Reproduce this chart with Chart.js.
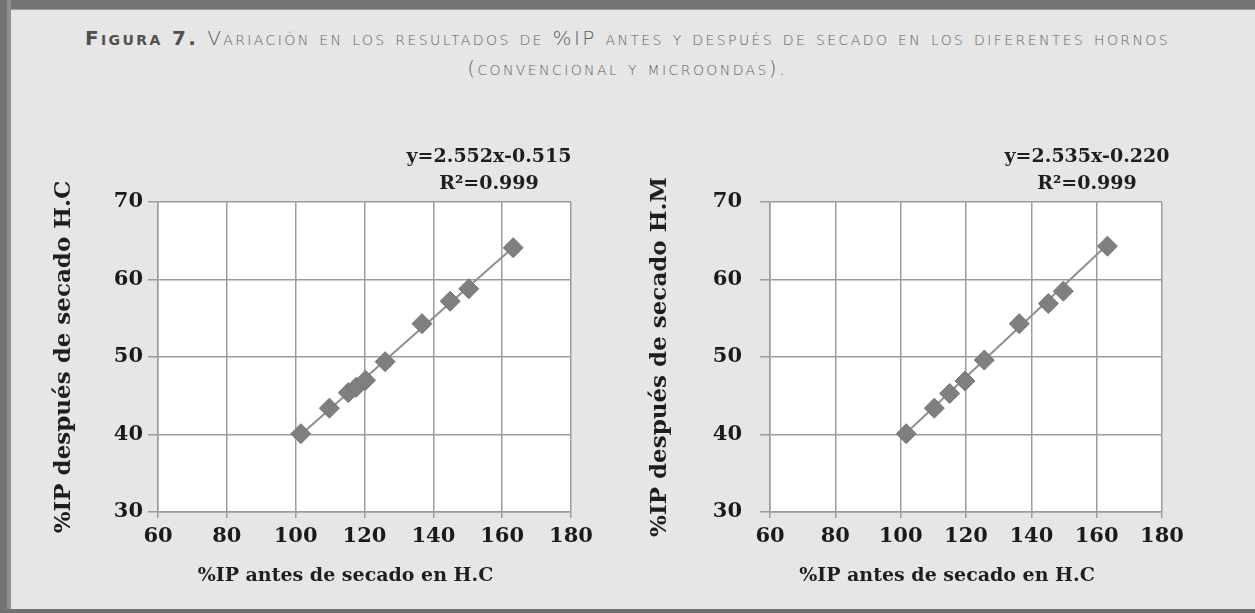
<!DOCTYPE html>
<html>
<head>
<meta charset="utf-8">
<script src="https://cdn.jsdelivr.net/npm/chart.js@4.4.1/dist/chart.umd.min.js"></script>
<style>
  body { margin: 0; width: 1255px; height: 613px; background: #e6e6e6; position: relative; overflow: hidden; }
  .frame-top { position: absolute; left: 0; top: 0; width: 1255px; height: 9px; background: #717375; border-bottom: 1px solid #9a9c9d; }
  .frame-left { position: absolute; left: 0; top: 0; width: 7px; height: 613px; background: #717375; border-right: 4px solid #8e9091; }
  .frame-bottom { position: absolute; left: 0; top: 609px; width: 1255px; height: 4px; background: #6e7072; }
  .titulo { position: absolute; left: 0; width: 1255px; text-align: center; color: #5e5e5e;
    font-family: "DejaVu Sans", sans-serif; font-variant: small-caps; font-size: 20px; font-weight: 300; letter-spacing: 2.4px; }
  .titulo b { font-weight: bold; color: #505050; }
  canvas { position: absolute; }
</style>
</head>
<body>
<div class="frame-top"></div>
<div class="frame-left"></div>
<div class="frame-bottom"></div>
<div class="titulo" style="top: 26px;"><b>Figura 7.</b> Variación en los resultados de %IP antes y después de secado en los diferentes hornos</div>
<div class="titulo" style="top: 56px;">(convencional y microondas).</div>

<canvas id="chart-hc" style="left: 0px; top: 120px;" width="620" height="480"></canvas>
<canvas id="chart-hm" style="left: 620px; top: 120px;" width="635" height="480"></canvas>

<script>
// horno convencional
const xHC = [101.5, 109.8, 115.3, 117.6, 120.3, 126.0, 136.7, 144.9, 150.3, 163.2];
const yHC = [40.1, 43.4, 45.4, 46.1, 47.0, 49.4, 54.3, 57.2, 58.8, 64.1];
const ecuacionHC = { pendiente: 2.552, intercepto: -0.515, r2: "0.999" };

// horno microondas
const xHM = [101.7, 110.3, 115.0, 119.7, 125.6, 136.3, 145.2, 149.8, 163.3];
const yHM = [40.1, 43.4, 45.3, 46.9, 49.6, 54.3, 56.9, 58.5, 64.3];
const ecuacionHM = { pendiente: 2.535, intercepto: -0.22, r2: "0.999" };

const ticksX = [60, 80, 100, 120, 140, 160, 180];
const ticksY = [30, 40, 50, 60, 70];

const tituloX = "%IP antes de secado en H.C";
const tituloYHC = "%IP después de secado H.C";
const tituloYHM = "%IP después de secado H.M";

const fuente = "'DejaVu Serif', serif";
const gris = "#9c9c9c";

function toPoints(xs, ys) {
  return xs.map((x, i) => ({ x: x, y: ys[i] }));
}

// linea de tendencia entre el primer y el ultimo punto, segun la ecuacion
function tendencia(ys, ec) {
  const yMin = Math.min(...ys);
  const yMax = Math.max(...ys);
  return [
    { x: ec.pendiente * yMin + ec.intercepto, y: yMin },
    { x: ec.pendiente * yMax + ec.intercepto, y: yMax },
  ];
}

function formato(n) {
  return (n < 0 ? "-" : "+") + Math.abs(n).toFixed(3);
}

// fondo blanco del area y texto de la ecuacion
const plotExtras = {
  id: "plotExtras",
  beforeDraw(chart) {
    const a = chart.chartArea;
    const ctx = chart.ctx;
    ctx.save();
    ctx.fillStyle = "#ffffff";
    ctx.fillRect(a.left, a.top, a.right - a.left, a.bottom - a.top);
    ctx.restore();
  },
  afterDraw(chart, args, opts) {
    const a = chart.chartArea;
    const ctx = chart.ctx;
    const ec = opts.ecuacion;
    ctx.save();
    ctx.fillStyle = "#1e1e1e";
    ctx.font = "bold 19px " + fuente;
    ctx.textAlign = "center";
    ctx.textBaseline = "middle";
    const cx = a.right - opts.dx;
    ctx.fillText("y=" + ec.pendiente.toFixed(3) + "x" + formato(ec.intercepto), cx, a.top - 45);
    ctx.fillText("R²=" + ec.r2, cx, a.top - 18);
    ctx.restore();
  },
};

function crearGrafico(id, xs, ys, ec, tituloY, cfg) {
  const ctx = document.getElementById(id).getContext("2d");
  return new Chart(ctx, {
    type: "scatter",
    data: {
      datasets: [
        {
          label: "datos",
          data: toPoints(xs, ys),
          pointStyle: "rectRot",
          pointRadius: 10,
          backgroundColor: "#7f7f7f",
          borderColor: "#777777",
          borderWidth: 1,
        },
        {
          label: "tendencia",
          type: "line",
          data: tendencia(ys, ec),
          showLine: true,
          pointRadius: 0,
          borderColor: "#8f8f8f",
          borderWidth: 2,
        },
      ],
    },
    options: {
      responsive: false,
      animation: false,
      layout: {
        padding: { left: 0, right: cfg.padRight, top: 82, bottom: 8 },
      },
      plugins: {
        legend: { display: false },
        tooltip: { enabled: false },
        plotExtras: { ecuacion: ec, dx: cfg.eqDx },
      },
      scales: {
        x: {
          type: "linear",
          min: 60,
          max: 180,
          afterFit: (s) => { s.height = 80; },
          afterBuildTicks: (s) => { s.ticks = ticksX.map((v) => ({ value: v })); },
          grid: { color: gris, lineWidth: 1.5, tickLength: 6 },
          border: { color: gris, width: 1.5 },
          ticks: {
            padding: 6,
            color: "#1a1a1a",
            font: { family: fuente, size: 21, weight: "bold" },
          },
          title: {
            display: true,
            text: tituloX + "\u2003\u2003",
            color: "#1e1e1e",
            padding: { top: 0, bottom: 5 },
            font: { family: fuente, size: 19, weight: "bold" },
          },
        },
        y: {
          type: "linear",
          min: 30,
          max: 70,
          afterFit: (s) => { s.width = cfg.yWidth; },
          afterBuildTicks: (s) => { s.ticks = ticksY.map((v) => ({ value: v })); },
          grid: { color: gris, lineWidth: 1.5, tickLength: 10 },
          border: { color: gris, width: 1.5 },
          ticks: {
            padding: cfg.yPad,
            color: "#1a1a1a",
            font: { family: fuente, size: 21, weight: "bold" },
          },
          title: {
            display: true,
            text: tituloY,
            color: "#1e1e1e",
            padding: { top: cfg.yTitlePad, bottom: 0 },
            font: { family: fuente, size: 23, weight: "bold" },
          },
        },
      },
    },
    plugins: [plotExtras],
  });
}

crearGrafico("chart-hc", xHC, yHC, ecuacionHC, tituloYHC, {
  padRight: 49, yWidth: 158, yPad: 5, yTitlePad: 50, eqDx: 82,
});
crearGrafico("chart-hm", xHM, yHM, ecuacionHM, tituloYHM, {
  padRight: 93, yWidth: 150, yPad: 18, yTitlePad: 26, eqDx: 75,
});
</script>
</body>
</html>
